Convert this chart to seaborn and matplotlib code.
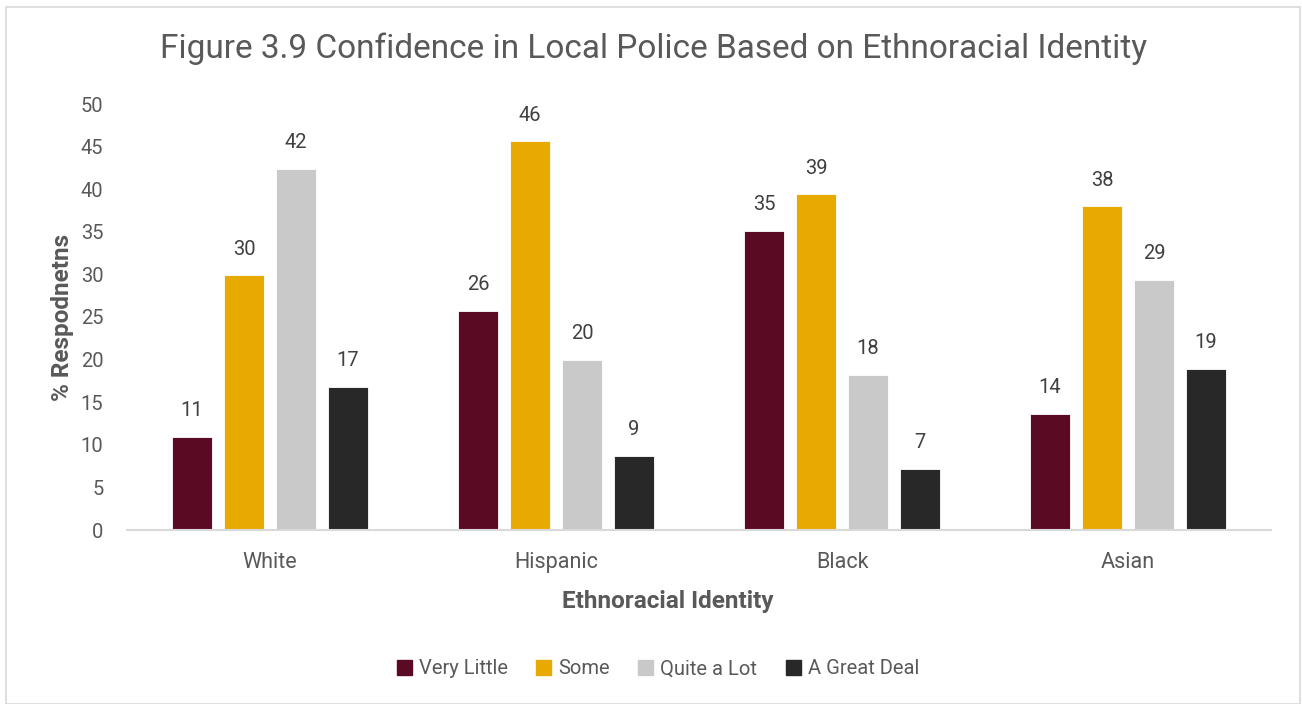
import matplotlib
matplotlib.use("Agg")
import matplotlib.pyplot as plt
from matplotlib.patches import Rectangle
import seaborn as sns
import pandas as pd

# Survey results: share of respondents (%) by confidence level and group
groups = ["White", "Hispanic", "Black", "Asian"]
levels = ["Very Little", "Some", "Quite a Lot", "A Great Deal"]
very_little = [10.9, 25.7, 35.1, 13.6]
some = [29.9, 45.6, 39.4, 38.0]
quite_a_lot = [42.4, 20.0, 18.2, 29.4]
great_deal = [16.8, 8.7, 7.2, 18.9]
y_ticks = [0, 5, 10, 15, 20, 25, 30, 35, 40, 45, 50]

colors = ["#5B0A23", "#E8AA00", "#C9C9C9", "#282828"]
text_color = "#595959"

rows = []
for lvl, vals in zip(levels, [very_little, some, quite_a_lot, great_deal]):
    for g, v in zip(groups, vals):
        rows.append({"group": g, "level": lvl, "pct": v})
df = pd.DataFrame(rows)

sns.set_theme(style="white")
plt.rcParams["font.family"] = ["Roboto", "DejaVu Sans"]

fig = plt.figure(figsize=(13.02, 7.04), dpi=100)
ax = fig.add_axes([127 / 1302, 1 - 530 / 704, (1271 - 127) / 1302, (530 - 104) / 704])

sns.barplot(data=df, x="group", y="pct", hue="level", order=groups,
            hue_order=levels, palette=colors, width=0.728, gap=0.23,
            errorbar=None, saturation=1, edgecolor="white", linewidth=0.6,
            ax=ax, legend=False)

for cont in ax.containers:
    ax.bar_label(cont, fmt="{:.0f}", padding=12, fontsize=14.5, color="#404040")

ax.set_xlim(-0.5, 3.5)
ax.set_ylim(0, 50)
ax.set_yticks(y_ticks)
ax.tick_params(axis="y", length=0, pad=17, labelsize=14.5, labelcolor=text_color)
ax.tick_params(axis="x", length=0, pad=16, labelsize=15.5, labelcolor=text_color)

for side in ["top", "right", "left"]:
    ax.spines[side].set_visible(False)
ax.spines["bottom"].set_color("#D9D9D9")
ax.spines["bottom"].set_linewidth(1.5)

ax.set_xlabel("Ethnoracial Identity", fontsize=17.5, fontweight="bold",
              color=text_color)
ax.xaxis.set_label_coords(0.4725, -60 / 426, transform=ax.transAxes)
ax.set_ylabel("% Respodnetns", fontsize=17.5, fontweight="bold",
              color=text_color, labelpad=5)

fig.text(0.502, 1 - 49 / 704, "Figure 3.9 Confidence in Local Police Based on Ethnoracial Identity",
         ha="center", va="center", fontsize=24, color=text_color)

handles = [Rectangle((0, 0), 1, 1, color=c) for c in colors]
fig.legend(handles, levels, loc="center", bbox_to_anchor=(658 / 1302, 1 - 669 / 704),
           ncol=4, frameon=False, fontsize=14.5, labelcolor=text_color,
           handlelength=0.75, handleheight=0.75, handletextpad=0.35, columnspacing=1.4)

# light frame around the whole chart
fig.patches.append(Rectangle((6 / 1302, 0), (1300 - 6) / 1302, 1 - 7 / 704,
                             transform=fig.transFigure, fill=False,
                             edgecolor="#D9D9D9", linewidth=1.2))

fig.savefig("out.png", dpi=100, facecolor="white")
